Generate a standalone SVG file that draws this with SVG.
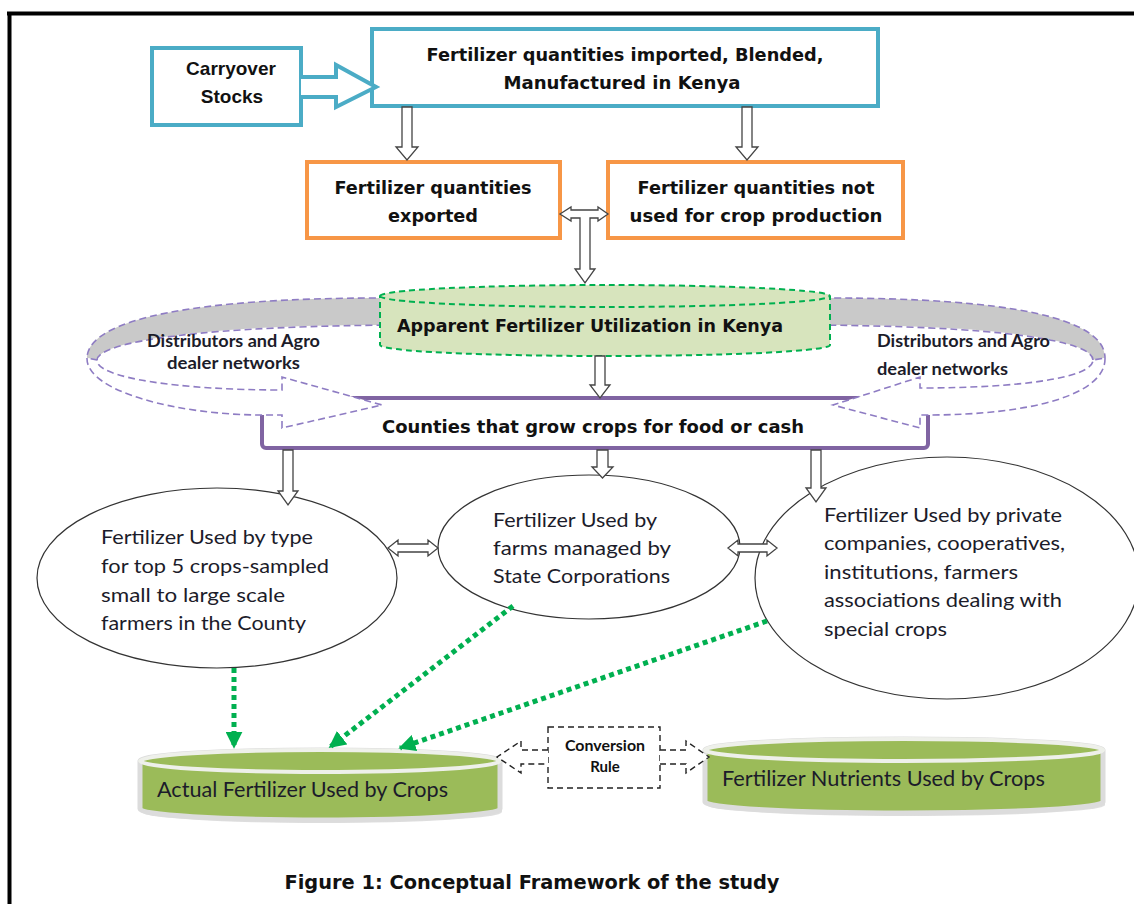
<svg xmlns="http://www.w3.org/2000/svg" width="1134" height="904" viewBox="0 0 1134 904">
<defs>
<style>
.hb{font-family:"DejaVu Sans","Liberation Sans",sans-serif;font-weight:bold;fill:#111;}
.ab{font-family:"Liberation Sans",Arial,sans-serif;font-weight:bold;fill:#111;}
.reg{font-family:Lato,"Open Sans",sans-serif;fill:#1c1c2a;font-size:20px;}
.big{font-size:21px;}
.dist{font-family:Lato,"Open Sans",sans-serif;font-weight:bold;fill:#1c1c2a;font-size:16.5px;}
.blue{fill:#fff;stroke:#4bacc6;stroke-width:4;}
.orange{fill:#fff;stroke:#f79646;stroke-width:4;}
.blk{fill:#fff;stroke:#444;stroke-width:1.3;stroke-linejoin:miter;}
.ell{fill:#fff;stroke:#333;stroke-width:1.2;}
.ring{fill:#fff;stroke:#8e7cc3;stroke-width:1.6;stroke-dasharray:7 4;}
.ringl{fill:none;stroke:#8e7cc3;stroke-width:1.6;stroke-dasharray:7 4;}
.grey{fill:#c9c9c9;stroke:none;}
.gdot{fill:none;stroke:#00b050;stroke-width:5;stroke-dasharray:5 4;}
.dsh{fill:#fff;stroke:#222;stroke-width:1.4;stroke-dasharray:6 4;}
.cylb{fill:#9bbb59;stroke:#dcdcdc;stroke-width:5;}
.cylt{fill:#9bbb59;stroke:#eef0ea;stroke-width:4;}
.cb{font-family:Lato,"Open Sans",sans-serif;font-weight:bold;font-size:15px;fill:#111;}
</style>
<marker id="gh" viewBox="0 0 10 10" refX="9" refY="5" markerWidth="17" markerHeight="17" markerUnits="userSpaceOnUse" orient="auto">
<path d="M0,0 L10,5 L0,10 z" fill="#00b050"/>
</marker>
</defs>
<rect width="1134" height="904" fill="#fff"/>
<g id="frame">
<line x1="7" y1="13.5" x2="1134" y2="13.5" stroke="#000" stroke-width="4"/>
<line x1="9.5" y1="12" x2="9.5" y2="904" stroke="#000" stroke-width="4"/>
</g>

<g id="carryover">
<rect class="blue" x="152" y="48" width="149" height="77"/>
<text class="ab" font-size="19" x="231" y="75" text-anchor="middle">Carryover</text>
<text class="ab" font-size="19" x="232" y="103" text-anchor="middle">Stocks</text>
</g>

<g id="imported">
<rect class="blue" x="372" y="29" width="506" height="77"/>
<text class="hb" font-size="17" x="625" y="61" text-anchor="middle" textLength="397" lengthAdjust="spacingAndGlyphs">Fertilizer quantities imported, Blended,</text>
<text class="hb" font-size="17" x="622" y="89" text-anchor="middle" textLength="237" lengthAdjust="spacingAndGlyphs">Manufactured in Kenya</text>
</g>

<g id="exported">
<rect class="orange" x="307" y="162" width="253" height="76"/>
<text class="hb" font-size="17" x="433" y="194" text-anchor="middle" textLength="197" lengthAdjust="spacingAndGlyphs">Fertilizer quantities</text>
<text class="hb" font-size="17" x="433" y="222" text-anchor="middle" textLength="90" lengthAdjust="spacingAndGlyphs">exported</text>
</g>

<g id="notused">
<rect class="orange" x="608" y="162" width="295" height="76"/>
<text class="hb" font-size="17" x="756" y="194" text-anchor="middle" textLength="237" lengthAdjust="spacingAndGlyphs">Fertilizer quantities not</text>
<text class="hb" font-size="17" x="756" y="222" text-anchor="middle" textLength="253" lengthAdjust="spacingAndGlyphs">used for crop production</text>
</g>

<g id="counties">
<rect x="262" y="398" width="666" height="50" rx="4" fill="#fff" stroke="#8064a2" stroke-width="4"/>
<text class="hb" font-size="17" x="593" y="433" text-anchor="middle" textLength="422" lengthAdjust="spacingAndGlyphs">Counties that grow crops for food or cash</text>
</g>

<g id="distributors-left">
<path class="grey" d="M420,298 L380,298 C200,298 88,318 87,358 L97,360 C98,342 200,325 380,325 L420,325 Z"/>
<path class="ringl" d="M420,298 L380,298 C200,298 88,318 87,358"/>
<path class="ringl" d="M97,360 C98,342 200,325 420,325"/>
<path class="ring" d="M87,358 C86,392 180,415 262,415 L282,415 L282,428 L382,405 L282,377 L282,390 C180,390 96,378 97,360 Z"/>
<text class="dist" x="147" y="347" textLength="173" lengthAdjust="spacingAndGlyphs">Distributors and Agro</text>
<text class="dist" x="167" y="369" textLength="133" lengthAdjust="spacingAndGlyphs">dealer networks</text>
</g>

<g id="distributors-right">
<path class="grey" d="M790,298 L828,298 C1010,298 1105,318 1105,358 L1093,360 C1093,342 1010,325 828,325 L790,325 Z"/>
<path class="ringl" d="M790,298 L828,298 C1010,298 1105,318 1105,358"/>
<path class="ringl" d="M1093,360 C1093,342 1010,325 790,325"/>
<path class="ring" d="M1105,358 C1106,395 1030,415 928,415 L920,415 L920,428 L833,405 L920,377 L920,388 C1020,388 1093,378 1093,360 Z"/>
<text class="dist" x="877" y="347" textLength="173" lengthAdjust="spacingAndGlyphs">Distributors and Agro</text>
<text class="dist" x="877" y="375" textLength="131" lengthAdjust="spacingAndGlyphs">dealer networks</text>
</g>

<g id="apparent">
<path d="M380,296 A225,11 0 0 1 830,296 L830,345 A225,11 0 0 1 380,345 Z" fill="#d7e4bd" stroke="#00b050" stroke-width="2" stroke-dasharray="6 4"/>
<path d="M380,296 A225,11 0 0 0 830,296" fill="none" stroke="#00b050" stroke-width="2" stroke-dasharray="6 4"/>
<text class="hb" font-size="17" x="590" y="332" text-anchor="middle" textLength="386" lengthAdjust="spacingAndGlyphs">Apparent Fertilizer Utilization in Kenya</text>
</g>

<g id="ellipse-farmers">
<ellipse class="ell" cx="217" cy="578" rx="180" ry="90"/>
<text class="reg" x="101" y="544" textLength="212" lengthAdjust="spacingAndGlyphs">Fertilizer Used by type</text>
<text class="reg" x="101" y="573" textLength="228" lengthAdjust="spacingAndGlyphs">for top 5 crops-sampled</text>
<text class="reg" x="101" y="602" textLength="184" lengthAdjust="spacingAndGlyphs">small to large scale</text>
<text class="reg" x="101" y="630" textLength="205" lengthAdjust="spacingAndGlyphs">farmers in the County</text>
</g>

<g id="ellipse-state">
<ellipse class="ell" cx="589" cy="547" rx="151" ry="72"/>
<text class="reg" x="493" y="527" textLength="164" lengthAdjust="spacingAndGlyphs">Fertilizer Used by</text>
<text class="reg" x="493" y="555" textLength="178" lengthAdjust="spacingAndGlyphs">farms managed by</text>
<text class="reg" x="493" y="583" textLength="177" lengthAdjust="spacingAndGlyphs">State Corporations</text>
</g>

<g id="ellipse-private">
<ellipse class="ell" cx="947" cy="578" rx="192" ry="121"/>
<text class="reg" x="824" y="522" textLength="238" lengthAdjust="spacingAndGlyphs">Fertilizer Used by private</text>
<text class="reg" x="824" y="550" textLength="241" lengthAdjust="spacingAndGlyphs">companies, cooperatives,</text>
<text class="reg" x="824" y="579" textLength="194" lengthAdjust="spacingAndGlyphs">institutions, farmers</text>
<text class="reg" x="824" y="607" textLength="238" lengthAdjust="spacingAndGlyphs">associations dealing with</text>
<text class="reg" x="824" y="636" textLength="123" lengthAdjust="spacingAndGlyphs">special crops</text>
</g>

<g id="actual">
<path d="M142,764 L142,812 A180,11 0 0 0 502,812 L502,764 Z" fill="#c9c9c9" opacity="0.6"/>
<path class="cylb" d="M140,761 A180,11 0 0 1 500,761 L500,809 A180,11 0 0 1 140,809 Z"/>
<ellipse class="cylt" cx="320" cy="761" rx="180" ry="11"/>
<text class="reg big" x="157" y="797" textLength="291" lengthAdjust="spacingAndGlyphs">Actual Fertilizer Used by Crops</text>
</g>

<g id="nutrients">
<path d="M707,753 L707,805 A199,11 0 0 0 1105,805 L1105,753 Z" fill="#c9c9c9" opacity="0.6"/>
<path class="cylb" d="M705,750 A199,11 0 0 1 1103,750 L1103,802 A199,11 0 0 1 705,802 Z"/>
<ellipse class="cylt" cx="904" cy="750" rx="199" ry="11"/>
<text class="reg big" x="722" y="786" textLength="323" lengthAdjust="spacingAndGlyphs">Fertilizer Nutrients Used by Crops</text>
</g>

<g id="conversion">
<rect class="dsh" x="548" y="727" width="112" height="61"/>
<text class="cb" x="605" y="751" text-anchor="middle" textLength="80" lengthAdjust="spacingAndGlyphs">Conversion</text>
<text class="cb" x="605" y="772" text-anchor="middle">Rule</text>
</g>

<g id="connectors">
<path d="M301,77 L336,77 L336,65 L376,87 L336,107 L336,97 L301,97" fill="#fff" stroke="#4bacc6" stroke-width="4" stroke-linejoin="miter"/>
<polygon class="blk" points="402,107 412,107 412,147 418,147 407,160 396,147 402,147"/>
<polygon class="blk" points="742,107 752,107 752,147 758,147 747,160 736,147 742,147"/>
<polygon class="blk" points="560,214 571,207 571,210 598,210 598,207 608,214 598,221 598,218 590,218 590,269 595,269 585,283 575,269 580,269 580,218 571,218 571,221"/>
<polygon class="blk" points="595,356 605,356 605,385 610,385 600,398 590,385 595,385"/>
<polygon class="blk" points="283,450 293,450 293,491 298,491 288,505 278,491 283,491"/>
<polygon class="blk" points="597,450 608,450 608,467 613,467 602.5,478 592,467 597,467"/>
<polygon class="blk" points="811,450 821,450 821,488 826,488 816,502 806,488 811,488"/>
<polygon class="blk" points="388,548 398,540 398,544 428,544 428,540 438,548 428,556 428,552 398,552 398,556"/>
<polygon class="blk" points="728,548 738,540 738,544 767,544 767,540 777,548 767,556 767,552 738,552 738,556"/>
<line class="gdot" x1="234" y1="668" x2="234" y2="747" marker-end="url(#gh)"/>
<line class="gdot" x1="513" y1="606" x2="330" y2="747" marker-end="url(#gh)"/>
<line class="gdot" x1="767" y1="621" x2="400" y2="748" marker-end="url(#gh)"/>
<polyline class="dsh" points="548,750 521,750 521,741 497,757 521,773 521,764 548,764"/>
<polyline class="dsh" points="660,750 686,750 686,741 709,757 686,773 686,764 660,764"/>
</g>

<text class="hb" font-size="20" x="532" y="889" text-anchor="middle" textLength="495" lengthAdjust="spacingAndGlyphs">Figure 1: Conceptual Framework of the study</text>
</svg>
